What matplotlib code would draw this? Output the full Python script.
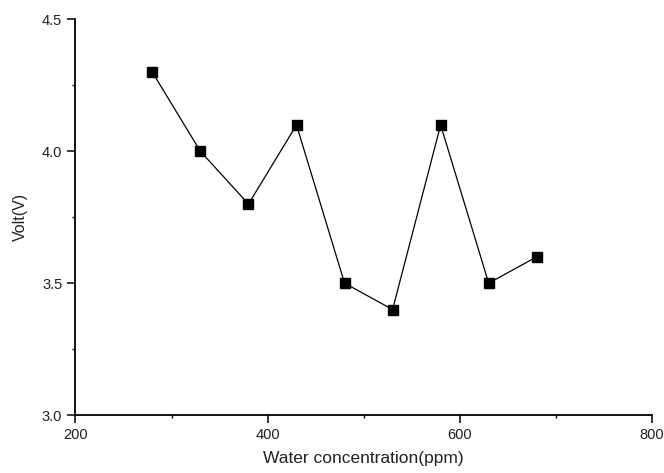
import matplotlib
matplotlib.use('Agg')
import matplotlib.pyplot as plt
from matplotlib.ticker import MultipleLocator

# data
water_ppm = [280, 330, 380, 430, 480, 530, 580, 630, 680]
volt = [4.3, 4.0, 3.8, 4.1, 3.5, 3.4, 4.1, 3.5, 3.6]

plt.rcParams['font.family'] = ['Liberation Sans', 'DejaVu Sans']

fig = plt.figure(figsize=(6.64, 4.73), dpi=100)
ax = fig.add_axes([0.1137, 0.1226, 0.982 - 0.1137, 0.9588 - 0.1226])

ax.plot(water_ppm, volt, color='black', linewidth=0.9,
        marker='s', markersize=6.5, markerfacecolor='black', markeredgecolor='black')

ax.set_xlim(200, 800)
ax.set_ylim(3.0, 4.5)
ax.xaxis.set_major_locator(MultipleLocator(200))
ax.xaxis.set_minor_locator(MultipleLocator(100))
ax.yaxis.set_major_locator(MultipleLocator(0.5))
ax.yaxis.set_minor_locator(MultipleLocator(0.25))
ax.yaxis.set_major_formatter(plt.FormatStrFormatter('%.1f'))

for s in ['top', 'right']:
    ax.spines[s].set_visible(False)
for s in ['left', 'bottom']:
    ax.spines[s].set_linewidth(1.3)

ax.tick_params(which='major', direction='out', length=6, width=1.1,
               labelsize=10.5, colors='black', labelcolor='#222222')
ax.tick_params(which='minor', direction='out', length=2.5, width=1.0)

ax.set_xlabel('Water concentration(ppm)', fontsize=12.5, color='#222222', labelpad=6)
ax.set_ylabel('Volt(V)', fontsize=11.5, color='#222222', labelpad=10)

fig.savefig('out.png', dpi=100)
